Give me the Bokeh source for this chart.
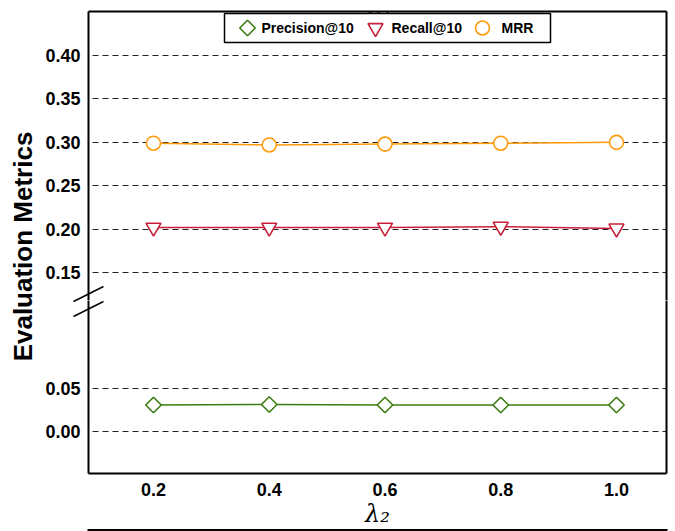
import math
from bokeh.plotting import figure
from bokeh.models import (Range1d, FixedTicker, LinearAxis, Label, NumeralTickFormatter, GridBox)
from bokeh.core.properties import value
from bokeh.embed import file_html
from bokeh.resources import INLINE

# ---------------- data ----------------
lambda2 = [0.2, 0.4, 0.6, 0.8, 1.0]
precision_at_10 = [0.031, 0.0316, 0.031, 0.031, 0.031]
recall_at_10 = [0.202, 0.202, 0.202, 0.203, 0.201]
mrr = [0.299, 0.297, 0.298, 0.299, 0.300]

x_ticks = [0.2, 0.4, 0.6, 0.8, 1.0]
upper_y_ticks = [0.15, 0.20, 0.25, 0.30, 0.35, 0.40]
lower_y_ticks = [0.00, 0.05]
series_names = ["Precision@10", "Recall@10", "MRR"]
y_label = "Evaluation Metrics"
x_label = "λ₂"
top_label = "λ₁"

# ---------------- style / layout ----------------
GREEN = "#3b7d12"
RED = "#c8203a"
ORANGE = "#ff9a0a"
COLORS = [GREEN, RED, ORANGE]
FONT = "Liberation Sans"

X_RANGE = (0.0877, 1.0864)
UP_RANGE = (0.118, 0.4506)
LO_RANGE = (-0.048, 0.1516)

LEFT_W = 38
FRAME_L = 88
FRAME_R = 666
MAIN_W = 634
BORDER_L = FRAME_L - LEFT_W
BORDER_R = LEFT_W + MAIN_W - FRAME_R
TOP_H = 300
TOP_BORDER = 11
BOT_H = 231
BOT_BORDER = 58
TOTAL_H = TOP_H + BOT_H

DX = (X_RANGE[1] - X_RANGE[0]) / (FRAME_R - FRAME_L)
DY_UP = (UP_RANGE[1] - UP_RANGE[0]) / (TOP_H - TOP_BORDER)


def px_x(px):
    return X_RANGE[0] + (px - FRAME_L) * DX


def px_y_up(py):
    return UP_RANGE[1] - (py - TOP_BORDER) * DY_UP


def line_only_axis():
    return LinearAxis(ticker=FixedTicker(ticks=[]), major_tick_out=0, major_tick_in=0,
                      minor_tick_out=0, minor_tick_in=0, major_label_text_font_size="0px",
                      axis_line_width=2, axis_line_color="black")


def make_fig(height, yr, yticks, border_top, border_bottom, with_xaxis):
    p = figure(width=MAIN_W, height=height, x_range=Range1d(*X_RANGE),
               y_range=Range1d(*yr), output_backend="svg", toolbar_location=None,
               x_axis_location="below" if with_xaxis else None,
               min_border_left=BORDER_L, min_border_right=BORDER_R,
               min_border_top=border_top, min_border_bottom=border_bottom)
    p.outline_line_color = None
    p.background_fill_color = "white"
    p.border_fill_color = "white"
    p.xgrid.visible = False
    p.ygrid.ticker = FixedTicker(ticks=yticks)
    p.ygrid.grid_line_color = "#222222"
    p.ygrid.grid_line_width = 1
    p.ygrid.grid_line_dash = "6 4"
    p.ygrid.grid_line_dash_offset = 6

    ya = p.yaxis[0]
    ya.ticker = FixedTicker(ticks=yticks)
    ya.formatter = NumeralTickFormatter(format="0.00")
    ya.axis_line_color = "black"
    ya.axis_line_width = 2
    ya.major_tick_out = 0
    ya.major_tick_in = 0
    ya.minor_tick_out = 0
    ya.minor_tick_in = 0
    ya.major_label_standoff = 8
    ya.major_label_text_font = FONT
    ya.major_label_text_font_style = "bold"
    ya.major_label_text_font_size = "18px"
    ya.major_label_text_color = "black"

    p.add_layout(line_only_axis(), "right")
    return p


MARKERS = [dict(marker="square", angle=math.pi / 4, size=11),
           dict(marker="inverted_triangle", angle=0, size=15),
           dict(marker="circle", angle=0, size=14)]

# ---------------- upper panel ----------------
top = make_fig(TOP_H, UP_RANGE, upper_y_ticks, TOP_BORDER, 0, False)
top.add_layout(line_only_axis(), "above")

for vals, color, mk in [(mrr, ORANGE, MARKERS[2]), (recall_at_10, RED, MARKERS[1])]:
    top.line(lambda2, vals, line_color=color, line_width=1.5)
    top.scatter(lambda2, vals, fill_color="white", line_color=color, line_width=1.6, **mk)

# legend (upper centre, marker-only entries)
top.quad(left=px_x(224), right=px_x(550), top=px_y_up(13), bottom=px_y_up(42),
         fill_color="white", line_color="black", line_width=1.5)
leg_marker_px = [247, 375, 482]
leg_text_px = [261, 391, 501]
leg_y = px_y_up(27.5)
for i in range(3):
    top.scatter([px_x(leg_marker_px[i])], [leg_y], fill_color="white", line_color=COLORS[i],
                line_width=1.6, **MARKERS[i])
top.text(x=[px_x(v) for v in leg_text_px], y=[leg_y] * 3, text=series_names,
         text_font=value(FONT), text_font_style="bold", text_font_size="14px",
         text_color="black", text_align="left", text_baseline="middle")

# cut-off x label of the panel above
top.add_layout(Label(x=px_x(380), y=px_y_up(5.5), text=top_label, text_align="center",
                     text_baseline="alphabetic", text_font="DejaVu Serif",
                     text_font_style="italic", text_font_size="24px", text_color="black"))

# ---------------- lower panel ----------------
bot = make_fig(BOT_H, LO_RANGE, lower_y_ticks, 0, BOT_BORDER, True)
bot.line(lambda2, precision_at_10, line_color=GREEN, line_width=1.5)
bot.scatter(lambda2, precision_at_10, fill_color="white", line_color=GREEN, line_width=1.6,
            **MARKERS[0])

xa = bot.xaxis[0]
xa.ticker = FixedTicker(ticks=x_ticks)
xa.formatter = NumeralTickFormatter(format="0.0")
xa.axis_line_width = 2
xa.axis_line_color = "black"
xa.major_tick_out = 0
xa.major_tick_in = 0
xa.minor_tick_out = 0
xa.minor_tick_in = 0
xa.major_label_standoff = 9
xa.major_label_text_font = FONT
xa.major_label_text_font_style = "bold"
xa.major_label_text_font_size = "18px"
xa.major_label_text_color = "black"
xa.axis_label = x_label
xa.axis_label_standoff = 1
xa.axis_label_text_font = "DejaVu Serif"
xa.axis_label_text_font_style = "italic"
xa.axis_label_text_font_size = "24px"
xa.axis_label_text_color = "black"

# ---------------- transparent overlay: axis-break marks and cut-off frame edge ----------------
ov = figure(width=MAIN_W, height=TOTAL_H, x_range=Range1d(LEFT_W, LEFT_W + MAIN_W),
            y_range=Range1d(TOTAL_H, 0), x_axis_location=None, y_axis_location=None,
            output_backend="svg", toolbar_location=None, min_border=0, frame_align=False)
ov.grid.visible = False
ov.outline_line_color = None
ov.background_fill_color = None
ov.border_fill_color = None
ov.background_fill_alpha = 0
ov.border_fill_alpha = 0
ov.line([73, 103], [301, 286], line_color="black", line_width=1.5)
ov.line([73, 103], [316, 301], line_color="black", line_width=1.5)
ov.line([87, FRAME_R + 1], [529.5, 529.5], line_color="black", line_width=2.2)

# ---------------- y label column ----------------
lab = figure(width=LEFT_W, height=TOTAL_H, x_range=Range1d(0, 1), y_range=Range1d(0, 1),
             x_axis_location=None, y_axis_location=None, output_backend="svg",
             toolbar_location=None, min_border=0, frame_align=False)
lab.outline_line_color = None
lab.grid.visible = False
lab.add_layout(Label(x=22 / LEFT_W, y=1 - 246 / TOTAL_H, text=y_label, angle=math.pi / 2,
                     text_align="center", text_baseline="middle", text_font=FONT,
                     text_font_style="bold", text_font_size="26px", text_color="black"))

layout = GridBox(children=[(lab, 0, 0, 2, 1), (top, 0, 1), (bot, 1, 1), (ov, 0, 1, 2, 1)],
                 spacing=0)
open("out.html", "w").write(file_html(layout, INLINE))
